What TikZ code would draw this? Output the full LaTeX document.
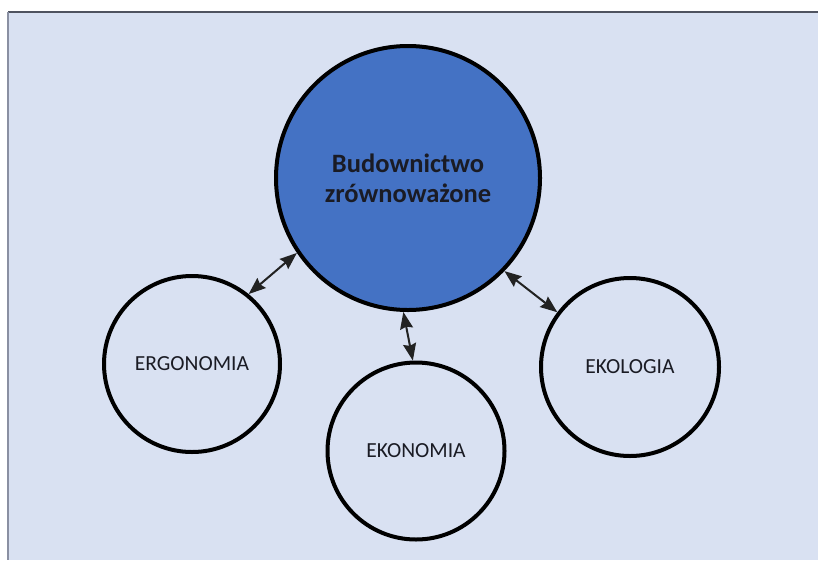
\documentclass[tikz,border=0pt]{standalone}
\usepackage{fontspec}
\setmainfont{Carlito}
\usetikzlibrary{arrows.meta}
\definecolor{panel}{HTML}{D9E1F2}
\definecolor{mainblue}{HTML}{4472C4}
\definecolor{inktext}{HTML}{1A1B24}
\definecolor{arrowink}{HTML}{222222}
\definecolor{topframe}{HTML}{4F5360}
\definecolor{leftframe}{HTML}{8A90A2}
\tikzset{
  duohead/.tip={Stealth[length=17pt,width=13pt,inset=2pt]},
  hub/.style={circle, draw=black, line width=4pt, fill=mainblue, minimum size=264pt,
    inner sep=0pt, align=center, text=inktext, font=\bfseries\fontsize{26.5}{30}\selectfont},
  pillar/.style={circle, draw=black, line width=4pt, fill=panel, inner sep=0pt,
    text=inktext, font=\fontsize{21.5}{24}\selectfont},
  link/.style={arrowink, line width=2pt, duohead-duohead}
}
\begin{document}
\begin{tikzpicture}[x=1pt, y=-1pt]
  \useasboundingbox (0,0) rectangle (818,560);
  % page and panel
  \fill[white] (0,0) rectangle (818,560);
  \fill[panel] (8,12) rectangle (818,560);
  \draw[topframe, line width=1.5pt] (8,12) -- (818,12);
  \draw[leftframe, line width=2pt] (8,12) -- (8,560);

  % central circle and the three pillars
  \node[hub] (hub) at (408,178) {Budownictwo\\zrównoważone};
  \node[pillar, minimum size=176pt] (ergo) at (192,364) {ERGONOMIA};
  \node[pillar, minimum size=177pt] (econ) at (416,451) {EKONOMIA};
  \node[pillar, minimum size=178pt] (eco)  at (630,367) {EKOLOGIA};

  % two-way links
  \draw[link] (hub.214) -- (ergo.51);
  \draw[link] (hub.268) -- (econ.92);
  \draw[link] (hub.316) -- (eco.143);
\end{tikzpicture}
\end{document}
